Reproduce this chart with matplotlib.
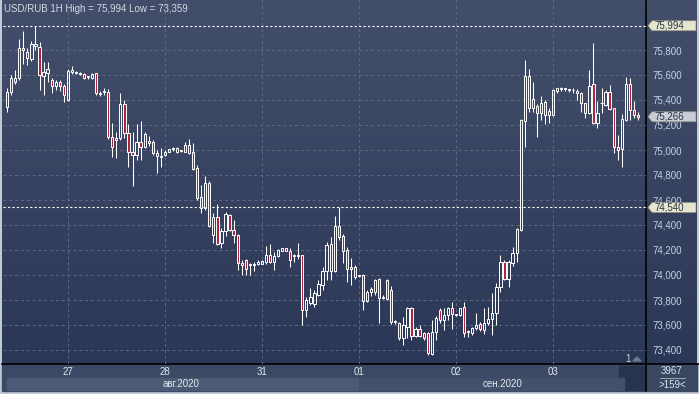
import numpy as np
import matplotlib
matplotlib.use("Agg")
import matplotlib.pyplot as plt
from matplotlib.patches import Rectangle, Polygon
from matplotlib.colors import LinearSegmentedColormap

plt.rcParams['font.family'] = ['Liberation Sans', 'DejaVu Sans']

# USD/RUB hourly bars, 26 Aug 09:00 .. 03 Sep 21:00
opens = [75.346, 75.462, 75.573, 75.573, 75.797, 75.786, 75.728, 75.834, 75.826, 75.594,
         75.618, 75.560, 75.514, 75.546, 75.514, 75.400, 75.621, 75.618, 75.615, 75.608,
         75.585, 75.578, 75.613, 75.455, 75.462, 75.466, 75.101, 75.093, 75.093, 75.368,
         75.133, 74.986, 74.960, 75.066, 75.021, 75.074, 75.061, 74.973, 74.946, 74.960,
         74.986, 75.010, 75.018, 74.992, 74.986, 75.040, 74.986, 74.853, 74.626, 74.533,
         74.733, 74.320, 74.466, 74.258, 74.354, 74.480, 74.360, 74.320, 74.093, 74.120,
         74.080, 74.080, 74.088, 74.090, 74.106, 74.160, 74.106, 74.152, 74.194, 74.213,
         74.194, 74.150, 74.150, 74.160, 73.720, 73.773, 73.768, 73.840, 73.920, 74.034,
         74.030, 74.034, 74.392, 74.312, 74.200, 74.061, 74.061, 73.996, 74.000, 73.794,
         73.866, 73.866, 73.965, 73.820, 73.960, 73.880, 73.626, 73.618, 73.493, 73.581,
         73.733, 73.512, 73.568, 73.538, 73.538, 73.368, 73.546, 73.720, 73.640, 73.680,
         73.733, 73.680, 73.680, 73.746, 73.546, 73.533, 73.573, 73.605, 73.560, 73.618,
         73.645, 73.698, 73.906, 74.106, 73.965, 74.098, 74.173, 74.363, 75.234, 75.592,
         75.338, 75.352, 75.293, 75.386, 75.280, 75.280, 75.472, 75.490, 75.488, 75.480,
         75.477, 75.472, 75.458, 75.373, 75.298, 75.528, 75.218, 75.373, 75.360, 75.466,
         75.333, 75.026, 75.005, 75.240, 75.528, 75.320, 75.280]
highs = [75.493, 75.600, 75.640, 75.888, 75.954, 75.813, 75.869, 75.994, 75.866, 75.706,
         75.706, 75.578, 75.560, 75.560, 75.530, 75.645, 75.674, 75.630, 75.625, 75.615,
         75.595, 75.615, 75.615, 75.470, 75.500, 75.490, 75.216, 75.144, 75.456, 75.400,
         75.208, 75.141, 75.208, 75.232, 75.141, 75.110, 75.080, 75.000, 75.013, 75.000,
         75.010, 75.025, 75.022, 75.000, 75.066, 75.090, 75.053, 74.880, 74.720, 74.792,
         74.755, 74.493, 74.565, 74.380, 74.500, 74.490, 74.440, 74.330, 74.120, 74.130,
         74.100, 74.106, 74.120, 74.120, 74.234, 74.248, 74.180, 74.205, 74.220, 74.220,
         74.213, 74.170, 74.253, 74.160, 73.826, 73.893, 73.880, 73.960, 74.061, 74.266,
         74.301, 74.472, 74.546, 74.330, 74.226, 74.133, 74.080, 74.000, 74.005, 73.880,
         73.906, 73.966, 73.973, 73.840, 73.966, 73.912, 73.640, 73.626, 73.666, 73.746,
         73.746, 73.580, 73.600, 73.546, 73.546, 73.640, 73.672, 73.738, 73.738, 73.746,
         73.780, 73.690, 73.740, 73.786, 73.560, 73.586, 73.698, 73.620, 73.733, 73.746,
         73.853, 73.938, 74.160, 74.120, 74.120, 74.226, 74.373, 75.245, 75.720, 75.648,
         75.546, 75.370, 75.430, 75.400, 75.333, 75.488, 75.500, 75.506, 75.500, 75.488,
         75.493, 75.485, 75.466, 75.380, 75.640, 75.858, 75.394, 75.493, 75.480, 75.520,
         75.333, 75.120, 75.288, 75.586, 75.573, 75.394, 75.306]
lows = [75.306, 75.440, 75.530, 75.560, 75.685, 75.680, 75.712, 75.800, 75.480, 75.440,
        75.546, 75.456, 75.480, 75.470, 75.384, 75.390, 75.610, 75.605, 75.600, 75.565,
        75.570, 75.570, 75.440, 75.435, 75.440, 75.090, 74.946, 74.936, 75.080, 75.100,
        74.866, 74.714, 74.920, 74.920, 75.013, 75.030, 74.960, 74.818, 74.866, 74.955,
        74.980, 74.990, 74.975, 74.985, 74.980, 74.965, 74.840, 74.600, 74.493, 74.520,
        74.385, 74.253, 74.240, 74.220, 74.310, 74.350, 74.253, 74.040, 74.000, 74.000,
        74.000, 74.030, 74.080, 74.085, 74.090, 74.100, 74.040, 74.145, 74.190, 74.190,
        74.066, 74.106, 74.130, 73.600, 73.666, 73.760, 73.746, 73.830, 73.880, 73.960,
        73.960, 74.026, 74.280, 74.093, 73.946, 73.920, 73.966, 73.985, 73.720, 73.780,
        73.830, 73.840, 73.616, 73.810, 73.800, 73.606, 73.610, 73.480, 73.440, 73.493,
        73.480, 73.500, 73.500, 73.480, 73.359, 73.360, 73.480, 73.613, 73.560, 73.640,
        73.570, 73.670, 73.670, 73.506, 73.506, 73.520, 73.560, 73.555, 73.528, 73.600,
        73.520, 73.600, 73.866, 73.960, 73.906, 74.070, 74.106, 74.355, 75.026, 75.306,
        75.306, 75.101, 75.240, 75.210, 75.218, 75.270, 75.460, 75.475, 75.475, 75.465,
        75.458, 75.400, 75.306, 75.253, 75.290, 75.208, 75.173, 75.298, 75.352, 75.320,
        74.978, 74.920, 74.866, 75.234, 75.240, 75.253, 75.240]
closes = [75.462, 75.573, 75.546, 75.813, 75.813, 75.733, 75.845, 75.848, 75.600, 75.621,
          75.645, 75.514, 75.546, 75.514, 75.440, 75.632, 75.640, 75.620, 75.612, 75.573,
          75.582, 75.610, 75.453, 75.448, 75.465, 75.101, 75.026, 75.080, 75.368, 75.133,
          74.986, 74.960, 75.066, 75.021, 75.125, 75.053, 74.978, 74.952, 74.948, 74.986,
          75.005, 75.016, 74.981, 74.994, 75.040, 74.978, 74.845, 74.613, 74.533, 74.733,
          74.392, 74.466, 74.248, 74.352, 74.488, 74.360, 74.320, 74.093, 74.080, 74.045,
          74.082, 74.078, 74.106, 74.110, 74.160, 74.106, 74.152, 74.200, 74.213, 74.194,
          74.120, 74.152, 74.154, 73.720, 73.800, 73.826, 73.853, 73.928, 74.034, 74.240,
          74.245, 74.392, 74.301, 74.194, 74.045, 74.045, 73.986, 73.994, 73.794, 73.866,
          73.886, 73.960, 73.813, 73.826, 73.806, 73.626, 73.628, 73.493, 73.600, 73.733,
          73.512, 73.568, 73.512, 73.493, 73.373, 73.546, 73.653, 73.640, 73.680, 73.733,
          73.690, 73.682, 73.733, 73.538, 73.548, 73.578, 73.597, 73.565, 73.618, 73.645,
          73.698, 73.906, 74.106, 73.965, 74.106, 74.173, 74.365, 75.240, 75.592, 75.338,
          75.405, 75.293, 75.373, 75.280, 75.314, 75.480, 75.493, 75.492, 75.493, 75.481,
          75.478, 75.453, 75.373, 75.298, 75.512, 75.218, 75.298, 75.375, 75.466, 75.328,
          75.021, 75.000, 75.245, 75.528, 75.320, 75.280, 75.266]

day_labels = ['27', '28', '31', '01', '02', '03']
day_start = [15, 39, 63, 87, 111, 135]          # bar index of 00:00
month_labels = ['авг.2020', 'сен.2020']
price_ticks = [73.4, 73.6, 73.8, 74.0, 74.2, 74.4, 74.6, 74.8, 75.0, 75.2, 75.4, 75.6, 75.8]
level_line = 74.540
bars_info = ['3967', '>159<']

o, h, l, c = map(np.array, (opens, highs, lows, closes))
x = np.arange(len(o))
bull = c >= o


def fmt(v):
    return f"{v:.3f}".replace('.', ',')


W, H = 699, 394
fig = plt.figure(figsize=(W / 100, H / 100), dpi=100)
fig.patch.set_facecolor('#c3cad5')

# pixel canvas for frame and panels
bg = fig.add_axes([0, 0, 1, 1])
cmap = LinearSegmentedColormap.from_list('bgc', ['#434f6a', '#2b3756'])
bg.imshow(np.linspace(0, 1, 256).reshape(-1, 1), extent=(2, 697, 364, 0),
          aspect='auto', cmap=cmap)
bg.add_patch(Rectangle((2, 364), 644, 27, color='#3c4964'))
bg.add_patch(Rectangle((646, 364), 51, 27, color='#3a4761'))
bg.add_patch(Rectangle((619, 366), 25, 24, color='#28334e'))
bg.plot([646, 646], [0, 391], color='black', lw=1.2)
bg.plot([2, 699], [364, 364], color='black', lw=1.2)
bg.text(672, 371.5, bars_info[0], color='#dfe4ec', fontsize=7, ha='center', va='center')
bg.plot([660, 685], [378, 378], color='#aab4c4', lw=0.6)
bg.text(672, 385, bars_info[1], color='#dfe4ec', fontsize=7, ha='center', va='center')
bg.text(628, 358.5, '1', color='#c8d0dc', fontsize=7, ha='center', va='center')
bg.add_patch(Polygon([(633, 361), (637, 357), (641, 361)], color='#6c7890'))
bg.text(4, 8.5, f"USD/RUB 1H High = {fmt(h.max())} Low = {fmt(l.min())}",
        color='#d5dbe5', fontsize=7, va='center', zorder=10)
bg.set_xlim(0, W)
bg.set_ylim(H, 0)
bg.axis('off')

# main price axes
ax = fig.add_axes([3 / W, 1 - 364 / H, 643 / W, 364 / H])
ax.set_facecolor('none')
for s in ax.spines.values():
    s.set_visible(False)
xmin, xmax = -1.03, 158.0
ax.set_xlim(xmin, xmax)
ax.set_ylim(73.288, 76.2)

ax.set_yticks(price_ticks)
ax.set_xticks(day_start)
ax.grid(True, color='#5c6a88', linestyle=(0, (3, 3)), lw=0.7)
ax.set_axisbelow(True)
ax.yaxis.tick_right()
ax.yaxis.set_major_formatter(plt.FuncFormatter(lambda v, p: fmt(v)))
ax.tick_params(axis='y', length=0, pad=5, labelsize=7, labelcolor='#c3d0e4')
ax.tick_params(axis='x', length=0, labelbottom=False)

# candles
top = np.maximum(o, c)
bot = np.minimum(o, c)
ax.vlines(x, top, h, color='white', lw=0.75, zorder=3)
ax.vlines(x, l, bot, color='white', lw=0.75, zorder=3)
body = np.maximum(top - bot, 0.006)
ax.bar(x[bull], body[bull], bottom=bot[bull], width=0.55, facecolor='none',
       edgecolor='white', linewidth=0.7, zorder=4)
ax.bar(x[~bull], body[~bull], bottom=bot[~bull], width=0.55, facecolor='#a8293f',
       edgecolor='white', linewidth=0.7, zorder=4)

# high level and custom level lines
ax.axhline(h.max(), color='white', lw=0.8, ls=(0, (2, 2)), zorder=2)
ax.axhline(level_line, color='white', lw=0.8, ls=(0, (2, 2)), zorder=2)


def tag(v, face):
    f = lambda px: (px - 3) / 643
    d = 0.04
    pts = [(f(648), v), (f(652), v + d), (f(696), v + d), (f(696), v - d), (f(652), v - d)]
    ax.add_patch(Polygon(pts, closed=True, facecolor=face, edgecolor='#8a8f80', lw=0.5,
                         transform=ax.get_yaxis_transform(), clip_on=False, zorder=6))
    ax.text(f(654), v, fmt(v), transform=ax.get_yaxis_transform(), fontsize=7,
            color='#27324a', va='center', ha='left', zorder=7, clip_on=False)


tag(h.max(), '#e6e6cf')
tag(level_line, '#e6e6cf')
tag(c[-1], '#c9cdd6')

# time strip
st = fig.add_axes([3 / W, 1 - 391 / H, 643 / W, 27 / H])
st.set_xlim(xmin, xmax)
st.set_ylim(0, 1)
st.axis('off')
st.axvspan(xmin + 0.9, day_start[3], 0.04, 0.48, color='#4d5a75')
st.axvspan(day_start[3], 152.5, 0.04, 0.48, color='#43506b')
for d, lab in zip(day_start, day_labels):
    st.text(d, 0.70, lab, ha='center', va='center', color='#e2e7ef', fontsize=7)
centers = [(xmin + day_start[3]) / 2, (day_start[3] + xmax) / 2]
for cx, lab in zip(centers, month_labels):
    st.text(cx, 0.26, lab, ha='center', va='center', color='#e2e7ef', fontsize=7)

fig.savefig('out.png', dpi=100, facecolor=fig.get_facecolor())
